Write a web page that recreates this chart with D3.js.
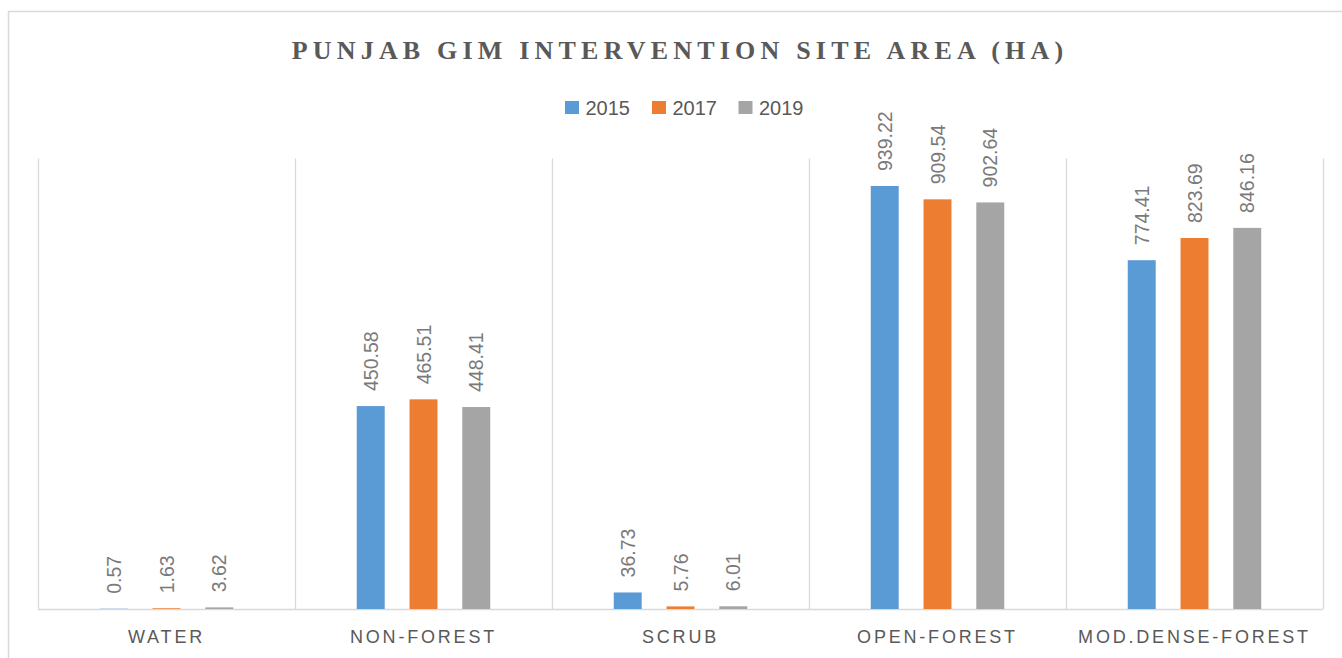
<!DOCTYPE html>
<html>
<head>
<meta charset="utf-8">
<script src="https://cdn.jsdelivr.net/npm/d3@7"></script>
<style>
  html, body { margin: 0; padding: 0; background: #ffffff; }
  svg { display: block; }
</style>
</head>
<body>
<svg id="chart" width="1342" height="658"></svg>
<script>
const categories = ["WATER", "NON-FOREST", "SCRUB", "OPEN-FOREST", "MOD.DENSE-FOREST"];
const seriesNames = ["2015", "2017", "2019"];
const values2015 = [0.57, 450.58, 36.73, 939.22, 774.41];
const values2017 = [1.63, 465.51, 5.76, 909.54, 823.69];
const values2019 = [3.62, 448.41, 6.01, 902.64, 846.16];
const seriesColors = ["#5B9BD5", "#ED7D31", "#A5A5A5"];
const titleText = "PUNJAB GIM INTERVENTION SITE AREA (HA)";
const yDomain = [0, 1000];

const seriesValues = [values2015, values2017, values2019];
const data = categories.map((c, i) => ({
  cat: c,
  vals: seriesNames.map((s, j) => ({ series: s, value: seriesValues[j][i], color: seriesColors[j] }))
}));

const svg = d3.select("#chart");

// outer chart frame
svg.append("rect")
  .attr("x", 8.5).attr("y", 11.5)
  .attr("width", 1400).attr("height", 700)
  .attr("fill", "none").attr("stroke", "#d9d9d9").attr("stroke-width", 1.5);

const x0 = d3.scaleBand().domain(categories).range([38, 1323]).padding(0);
const x1 = d3.scaleBand().domain(seriesNames).range([0, x0.bandwidth()])
  .paddingInner(0.47).paddingOuter(1.17);
const y = d3.scaleLinear().domain(yDomain).range([609, 158.6]);

// vertical category gridlines
const bounds = categories.map(c => x0(c)).concat([x0.range()[1]]);
svg.append("g").selectAll("line").data(bounds).join("line")
  .attr("x1", d => Math.round(d) + 0.5).attr("x2", d => Math.round(d) + 0.5)
  .attr("y1", y(yDomain[1])).attr("y2", y(0))
  .attr("stroke", "#d9d9d9").attr("stroke-width", 1.3);

// baseline
svg.append("line")
  .attr("x1", x0.range()[0]).attr("x2", x0.range()[1])
  .attr("y1", y(0) + 0.5).attr("y2", y(0) + 0.5)
  .attr("stroke", "#d9d9d9").attr("stroke-width", 1.3);

// bars
const groups = svg.append("g").selectAll("g").data(data).join("g")
  .attr("transform", d => `translate(${x0(d.cat)},0)`);

groups.selectAll("rect").data(d => d.vals).join("rect")
  .attr("x", d => x1(d.series))
  .attr("width", x1.bandwidth())
  .attr("y", d => y(d.value))
  .attr("height", d => y(0) - y(d.value))
  .attr("fill", d => d.color);

// data labels (rotated)
groups.selectAll("text").data(d => d.vals).join("text")
  .attr("transform", d => `translate(${x1(d.series) + x1.bandwidth() / 2},${y(d.value) - 15}) rotate(-90)`)
  .attr("dy", "0.36em")
  .attr("text-anchor", "start")
  .attr("font-family", "'Liberation Sans', Arial, sans-serif")
  .attr("font-size", "19.5px")
  .attr("fill", "#7a7a7a")
  .text(d => d.value.toFixed(2));

// category axis
const xAxis = d3.axisBottom(x0).tickSize(0).tickPadding(0);
const axG = svg.append("g").attr("transform", `translate(0,${y(0)})`).call(xAxis);
axG.select(".domain").remove();
axG.selectAll("text")
  .attr("y", 34).attr("dy", "0")
  .attr("font-family", "'Liberation Sans', Arial, sans-serif")
  .attr("font-size", "18px")
  .attr("letter-spacing", "2.8px")
  .attr("fill", "#595959");

// title
svg.append("text")
  .attr("x", 680).attr("y", 59)
  .attr("text-anchor", "middle")
  .attr("font-family", "'Liberation Serif', 'Times New Roman', serif")
  .attr("font-weight", "bold")
  .attr("font-size", "26px")
  .attr("letter-spacing", "5.2px")
  .attr("fill", "#595959")
  .text(titleText);

// legend
const legendX = [565, 652, 738.5];
const legend = svg.append("g").selectAll("g").data(seriesNames).join("g")
  .attr("transform", (d, i) => `translate(${legendX[i]},101)`);
legend.append("rect")
  .attr("width", 14).attr("height", 13)
  .attr("fill", (d, i) => seriesColors[i]);
legend.append("text")
  .attr("x", 20.5).attr("y", 14)
  .attr("font-family", "'Liberation Sans', Arial, sans-serif")
  .attr("font-size", "20px")
  .attr("fill", "#595959")
  .text(d => d);
</script>
</body>
</html>
